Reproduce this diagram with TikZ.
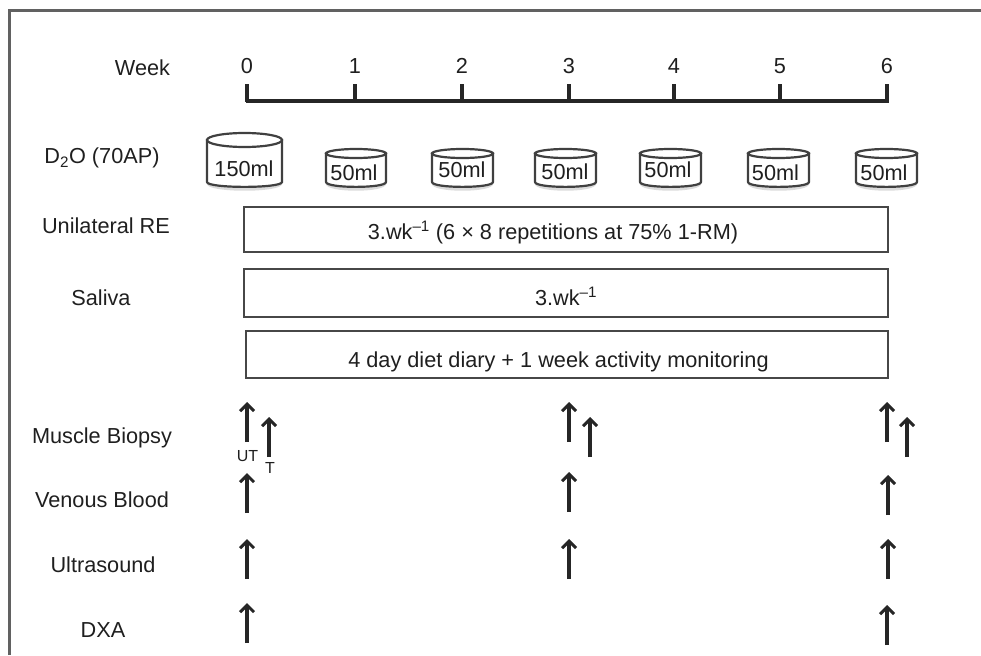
\documentclass[tikz,border=0pt]{standalone}
\usepackage{fontspec}
\setmainfont{Liberation Sans}
\usetikzlibrary{arrows.meta}
\tikzset{
 lab/.style={font=\fontsize{21.7}{25}\selectfont,text=black!88,inner sep=0pt,anchor=base},
 small/.style={font=\fontsize{16}{18}\selectfont,text=black!88,inner sep=0pt,anchor=base},
 barbox/.style={draw=black!72,line width=2.5pt,fill=white,inner sep=0pt},
 tick/.style={line width=3.6pt,black!85},
 arr/.style={line width=3.1pt,black!85,-{Straight Barb[length=7pt,width=14pt,line width=3pt]}},
 frame/.style={line width=2.2pt,black!62},
 can/.style={line width=2.2pt,draw=black!75,fill=white},
 shade/.style={fill=black!14,draw=none}
}
\newcommand{\cyl}[5]{% x1 x2 ycenter ybottom ry
 \pgfmathsetmacro{\xm}{(#1+#2)/2}
 \pgfmathsetmacro{\rx}{(#2-#1)/2}
 \fill[shade] (#1,#4-3) .. controls (#1,#4+6) and (#2,#4+6) .. (#2,#4-3) -- cycle;
 \draw[can] (#1,#3) -- (#1,#4-5) .. controls (#1,#4+1.5) and (#2,#4+1.5) .. (#2,#4-5) -- (#2,#3) -- cycle;
 \draw[can] (\xm,#3) ellipse [x radius=\rx, y radius=#5];
}
\begin{document}
\begin{tikzpicture}[x=1pt,y=-1pt]
\useasboundingbox (0,0) rectangle (981,655);
\draw[frame] (9.5,655) -- (9.5,10.5) -- (981,10.5);
% axis
\coordinate (t0) at (245.5,101); \coordinate (t6) at (889,101);
\draw[line width=3.3pt,black!85] (t0) -- (t6);
\foreach \x/\l in {247/0,355/1,462/2,569/3,674/4,780/5,887/6}{
 \draw[tick] (\x,102) -- (\x,84);
 \node[lab] at (\x,73.5) {\l};
}
\node[lab] at (142.5,76) {Week};
\node[lab] at (102,164) {D\textsubscript{2}O (70AP)};
\node[lab] at (106,233) {Unilateral RE};
\node[lab] at (101,305) {Saliva};
\node[lab] at (102,443) {Muscle Biopsy};
\node[lab] at (102,507) {Venous Blood};
\node[lab] at (103,572) {Ultrasound};
\node[lab] at (103,637) {DXA};
% cans
\cyl{207}{282}{140}{187}{7}
\node[lab] at (244,176) {150ml};
\foreach \a/\b/\c/\y in {326/386/354/180,432/493/462/177,535/596/565/179,640/701/668/177,748/809/775.5/180,856/917/884/180}{
 \cyl{\a}{\b}{153.5}{187}{4.5}
 \node[lab] at (\c,\y) {50ml};
}
% bars
\node[barbox,minimum width=644pt,minimum height=45pt] (b1) at (566,229.5) {};
\node[barbox,minimum width=644pt,minimum height=48pt] (b2) at (566,293) {};
\node[barbox,minimum width=642pt,minimum height=47pt] (b3) at (567,354.5) {};
\node[lab] (t1) at (553,239) {3.wk\textsuperscript{--1} (6 × 8 repetitions at 75\% 1-RM)};
\node[lab] (t2) at (566,305) {3.wk\textsuperscript{--1}};
\node[lab] (t3) at (558.5,367) {4 day diet diary + 1 week activity monitoring};
% arrows
\foreach \x/\a/\b in {247/442/402,269/457/417,569/442/402,590/457/417,887/442/402,907/457/417,
 247/513/473,569/512/472,888/515/475,
 247/579/539,569/579/539,888/579/539,
 247/643/603,887/645/605}{
 \draw[arr] (\x,\a) -- (\x,\b);
}
\node[small] at (247.5,461) {UT};
\node[small] at (270,473) {T};
\end{tikzpicture}
\end{document}
